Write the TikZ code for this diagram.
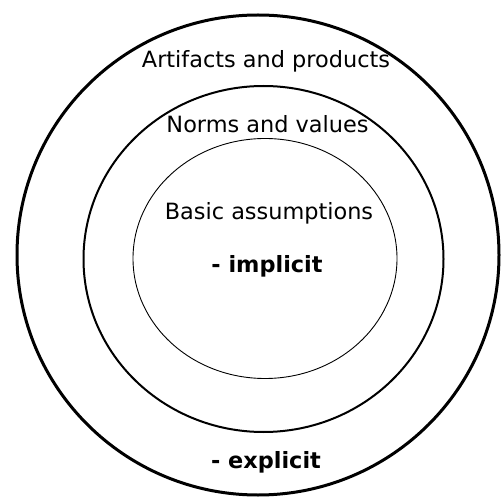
\documentclass[tikz,border=0pt]{standalone}
\usepackage{fontspec}
\setmainfont{DejaVu Sans}
\tikzset{
  ring/.style={draw=black},
  lbl/.style={font=\fontsize{22.4}{25}\selectfont, inner sep=0pt, anchor=base},
  tag/.style={lbl, font=\fontsize{22.4}{25}\selectfont\bfseries},
}
\begin{document}
\begin{tikzpicture}[x=1pt,y=-1pt]
  \useasboundingbox (0,0) rectangle (501,497);
  % three layers
  \draw[ring, line width=3pt] (258,255) ellipse [x radius=241pt, y radius=240pt];
  \draw[ring, line width=2pt] (263.5,259) ellipse [x radius=180pt, y radius=173pt];
  \draw[ring, line width=0.9pt] (265,258.5) ellipse [x radius=132pt, y radius=120pt];

  \node[lbl] (artifacts) at (266,68) {Artifacts and products};
  \node[lbl] (norms) at (267.5,133) {Norms and values};
  \node[lbl] (basic) at (269,220) {Basic assumptions};
  \node[tag] (implicit) at (267,273) {- implicit};
  \node[tag] (explicit) at (266,468) {- explicit};
\end{tikzpicture}
\end{document}
